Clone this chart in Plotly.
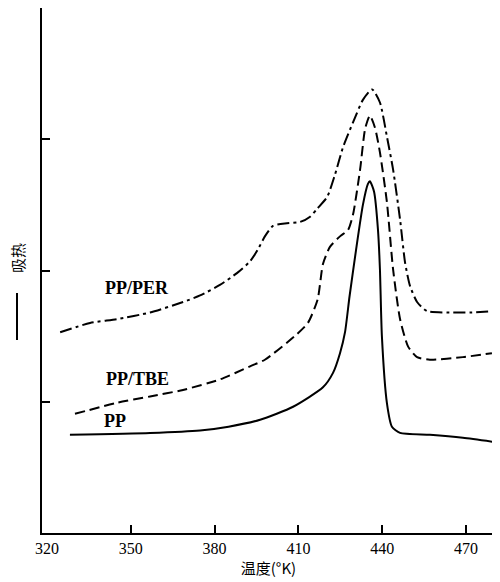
import plotly.graph_objects as go

# Temperature (K) and relative heat flow (arbitrary units)
pp_t = [328.2, 356.9, 374.8, 385.0, 396.3, 408.1, 418.8, 422.4, 424.9, 426.7, 428.3,
        430.6, 433.1, 434.9, 435.6, 437.1, 438.5, 439.2, 439.9, 441.7, 443.5, 446.4,
        457.1, 468.9, 479.7]
pp_v = [0.748, 0.762, 0.781, 0.81, 0.863, 0.962, 1.11, 1.22, 1.37, 1.53, 1.80,
        2.15, 2.50, 2.66, 2.68, 2.60, 2.31, 2.01, 1.50, 0.99, 0.81, 0.763,
        0.748, 0.725, 0.695]

tbe_t = [330.0, 345.1, 356.9, 368.7, 381.9, 392.7, 398.0, 408.7, 413.4, 416.9, 418.8,
         421.3, 424.9, 427.8, 429.6, 432.1, 433.9, 435.6, 437.4, 439.2, 441.7, 443.9,
         446.4, 449.3, 452.5, 457.1, 468.9, 479.3]
tbe_v = [0.908, 0.992, 1.04, 1.09, 1.17, 1.27, 1.32, 1.50, 1.60, 1.78, 2.05,
         2.18, 2.26, 2.31, 2.43, 2.77, 3.08, 3.18, 3.09, 2.90, 2.52, 2.01,
         1.63, 1.42, 1.34, 1.32, 1.34, 1.37]

per_t = [324.7, 335.4, 345.1, 356.9, 368.7, 374.8, 381.9, 388.0, 392.7, 395.5, 398.0,
         400.9, 405.9, 410.6, 414.2, 416.7, 420.3, 423.1, 426.0, 429.6, 433.1, 436.4,
         439.2, 441.7, 443.9, 446.4, 448.2, 450.0, 452.5, 456.1, 463.2, 471.5, 479.7]
per_v = [1.53, 1.60, 1.63, 1.68, 1.76, 1.81, 1.89, 1.98, 2.07, 2.16, 2.26,
         2.34, 2.36, 2.37, 2.41, 2.47, 2.56, 2.73, 2.94, 3.13, 3.30, 3.38,
         3.28, 3.02, 2.77, 2.39, 2.06, 1.88, 1.76, 1.69, 1.68, 1.68, 1.69]

x_ticks = [320, 350, 380, 410, 440, 470]
x_minor_ticks = [350, 380, 410, 440, 470]
y_ticks = [1, 2, 3, 4]

labels = ["PP/PER", "PP/TBE", "PP"]

serif = "Liberation Serif, Times New Roman, serif"
cjk = "Noto Sans CJK SC"

# plot area in page pixels: x 42..495, y 8..533
PX0, PX1, PY0, PY1 = 42, 495, 8, 533


def px(x):
    return (x - PX0) / (PX1 - PX0)


def py(y):
    return (PY1 - y) / (PY1 - PY0)


fig = go.Figure()
fig.add_trace(go.Scatter(x=per_t, y=per_v, mode="lines", name=labels[0],
                         line=dict(color="black", width=2, dash="12px,4px,3px,4px",
                                   shape="spline", smoothing=0.6)))
fig.add_trace(go.Scatter(x=tbe_t, y=tbe_v, mode="lines", name=labels[1],
                         line=dict(color="black", width=2, dash="10px,5px",
                                   shape="spline", smoothing=0.6)))
fig.add_trace(go.Scatter(x=pp_t, y=pp_v, mode="lines", name=labels[2],
                         line=dict(color="black", width=2,
                                   shape="spline", smoothing=0.6)))

# curve labels
for txt, xp, yp in [(labels[0], 137, 288), (labels[1], 137, 379), (labels[2], 115, 421)]:
    fig.add_annotation(text="<b>" + txt + "</b>", xref="paper", yref="paper",
                       x=px(xp), y=py(yp), xanchor="center", yanchor="middle",
                       showarrow=False,
                       font=dict(family=serif, size=18, color="black"))

# y axis title: dash + 吸热
fig.add_annotation(text="吸热", xref="paper", yref="paper",
                   x=px(17), y=py(258), textangle=-90,
                   xanchor="center", yanchor="middle",
                   showarrow=False, font=dict(family=cjk, size=15, color="black"))
fig.add_shape(type="line", xref="paper", yref="paper",
              x0=px(17), x1=px(17), y0=py(293), y1=py(340),
              line=dict(color="black", width=2))

# the page body has an 8px margin, so the figure is shifted by 8px
fig.update_layout(
    width=492, height=574, autosize=False,
    margin=dict(l=PX0 - 8, r=500 - PX1, t=PY0 - 8, b=582 - PY1),
    plot_bgcolor="white", paper_bgcolor="white",
    showlegend=False,
    xaxis=dict(range=[318.2, 480.4], tickvals=x_ticks, ticks="", showgrid=False,
               zeroline=False, showline=True, linecolor="black", linewidth=1.5,
               tickfont=dict(family=serif, size=16, color="black"),
               minor=dict(tickvals=x_minor_ticks, ticks="inside", ticklen=8,
                          tickwidth=1.5, tickcolor="black", showgrid=False),
               title=dict(text="温度(°K)", font=dict(family=cjk, size=15, color="black"),
                          standoff=6)),
    yaxis=dict(range=[0, 4], tickvals=y_ticks, ticks="inside", ticklen=8,
               tickwidth=1.5, tickcolor="black", showticklabels=False,
               showgrid=False, zeroline=False, showline=True, linecolor="black",
               linewidth=1.5),
)

fig.write_html("out.html")
